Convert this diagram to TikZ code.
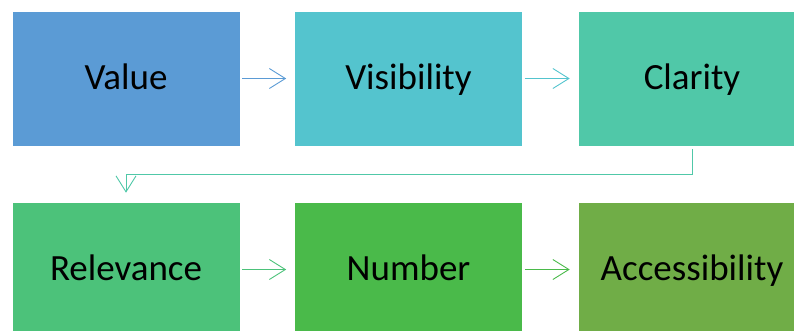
\documentclass[tikz,border=0pt]{standalone}
\usepackage{fontspec}
\setmainfont{Carlito}
\usetikzlibrary{arrows.meta}
\definecolor{cValue}{RGB}{91,155,213}
\definecolor{cVisib}{RGB}{84,196,206}
\definecolor{cClar}{RGB}{80,200,168}
\definecolor{cRelev}{RGB}{76,194,122}
\definecolor{cNumb}{RGB}{74,186,74}
\definecolor{cAcces}{RGB}{112,173,71}
\tikzset{
  stage/.style={rectangle, fill=#1, draw=white, line width=0.6pt,
    minimum width=228pt, minimum height=135pt, inner sep=0pt,
    text height=21pt, text depth=0pt,
    font=\fontsize{37}{44}\selectfont, text=black},
  link/.style={draw=#1, line width=0.9pt,
    -{Straight Barb[length=16pt,width=20pt,line width=0.9pt]}},
}
\begin{document}
\begin{tikzpicture}[x=1pt,y=-1pt]
  \useasboundingbox (0,0) rectangle (794,330);
  % top row
  \node[stage=cValue] (value) at (126,78.5) {Value};
  \node[stage=cVisib] (visib) at (408.5,78.5) {Visibility};
  \node[stage=cClar]  (clar)  at (692,78.5) {Clarity};
  % bottom row
  \node[stage=cRelev] (relev) at (126,269.5) {Relevance};
  \node[stage=cNumb]  (numb)  at (408.5,269.5) {Number};
  \node[stage=cAcces] (acces) at (692,269.5) {Accessibility};
  % connectors
  \draw[link=cValue, shorten <=2pt, shorten >=8pt] (value) -- (visib);
  \draw[link=cVisib, shorten <=2pt, shorten >=8pt] (visib) -- (clar);
  \draw[link=cClar, shorten <=3pt, shorten >=9pt] (clar.south) -- ++(0,28) -| (relev.north);
  \draw[link=cRelev, shorten <=2pt, shorten >=8pt] (relev) -- (numb);
  \draw[link=cNumb, shorten <=2pt, shorten >=8pt] (numb) -- (acces);
\end{tikzpicture}
\end{document}
